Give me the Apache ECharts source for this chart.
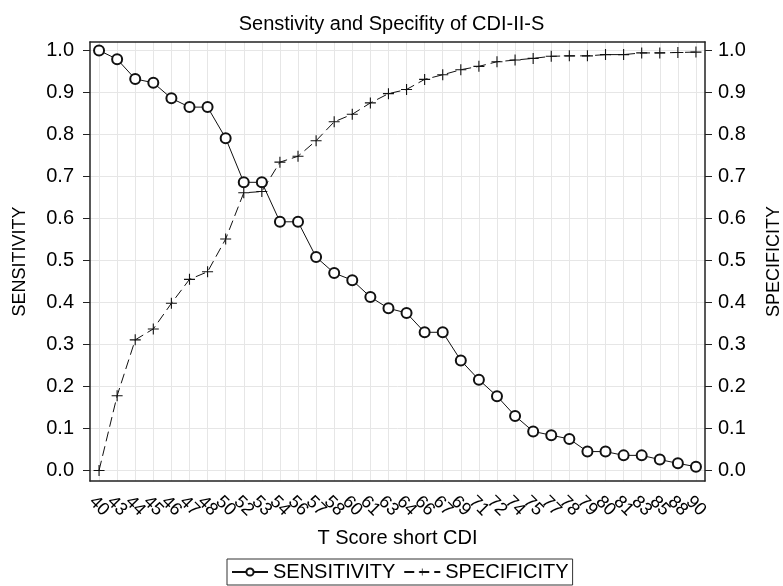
<!DOCTYPE html>
<html>
<head>
<meta charset="utf-8">
<script src="https://cdn.jsdelivr.net/npm/echarts@6/dist/echarts.min.js"></script>
<style>
    html, body { margin: 0; padding: 0; background: #fff; }
    #main { width: 783px; height: 586px; }
</style>
</head>
<body>
<div id="main"></div>
<script>
// T score categories along the bottom
var scores = ['40', '43', '44', '45', '46', '47', '48', '50', '52', '53', '54', '56', '57', '58', '60', '61', '63',
    '64', '66', '67', '69', '71', '72', '74', '75', '77', '78', '79', '80', '81', '83', '85', '88', '90'];

var sensitivity = [1.000, 0.979, 0.932, 0.923, 0.886, 0.865, 0.865, 0.791, 0.686, 0.686, 0.592, 0.592, 0.508,
    0.470, 0.453, 0.413, 0.386, 0.375, 0.329, 0.329, 0.262, 0.216, 0.177, 0.130, 0.093, 0.084, 0.075, 0.045,
    0.045, 0.036, 0.036, 0.026, 0.017, 0.009];

var specificity = [0.000, 0.178, 0.311, 0.337, 0.398, 0.455, 0.473, 0.551, 0.661, 0.664, 0.734, 0.748, 0.785,
    0.830, 0.848, 0.875, 0.897, 0.907, 0.931, 0.942, 0.954, 0.962, 0.973, 0.977, 0.981, 0.986, 0.987, 0.987,
    0.990, 0.990, 0.994, 0.994, 0.995, 0.996];

var yTicks = [0, 0.1, 0.2, 0.3, 0.4, 0.5, 0.6, 0.7, 0.8, 0.9, 1.0];

var font = 'Liberation Sans';
var plusSymbol = 'path://M4.5,0h1v10h-1zM0,4.5h10v1h-10z';

// the points sit on a value axis by index; the category axis only writes the labels
var xIdx = scores.map(function (s, i) { return i; });
function pairs(vals) {
    return vals.map(function (v, i) { return [i, v]; });
}

var chart = echarts.init(document.getElementById('main'));

function yAxisOf(name, pos, gap, showGrid) {
    return {
        type: 'value',
        position: pos,
        min: -0.025,
        max: 1.02,
        name: name,
        nameLocation: 'middle',
        nameRotate: 90,
        nameGap: gap,
        nameTextStyle: {fontFamily: font, fontSize: 18, color: '#000'},
        axisLine: {show: true, onZero: false, lineStyle: {color: '#222', width: 1.5}},
        axisTick: {show: true, length: 7, customValues: yTicks, lineStyle: {color: '#222'}},
        axisLabel: {
            customValues: yTicks,
            showMinLabel: true,
            showMaxLabel: true,
            margin: pos === 'left' ? 16 : 13,
            fontFamily: font, fontSize: 20, color: '#000',
            formatter: function (v) { return v.toFixed(1); }
        },
        splitLine: {show: showGrid, lineStyle: {color: '#e6e6e6', width: 1}}
    };
}

var option = {
    animation: false,
    backgroundColor: '#fff',
    title: {
        text: 'Senstivity and Specifity of CDI-II-S',
        left: 'center',
        top: 9,
        textStyle: {fontFamily: font, fontSize: 20, fontWeight: 'normal', color: '#000'}
    },
    legend: {
        bottom: 1,
        left: 227,
        itemWidth: 36,
        itemHeight: 9,
        itemGap: 8,
        padding: [3, 4],
        borderColor: '#333',
        borderWidth: 1,
        textStyle: {fontFamily: font, fontSize: 20, color: '#000'},
        data: ['SENSITIVITY', 'SPECIFICITY']
    },
    grid: {left: 90, right: 78, top: 42, bottom: 105, outerBoundsMode: 'none', containLabel: false},
    xAxis: [{
        type: 'category',
        data: scores,
        boundaryGap: true,
        position: 'bottom',
        name: 'T Score short CDI',
        nameLocation: 'middle',
        nameGap: 47,
        nameTextStyle: {fontFamily: font, fontSize: 20, color: '#000'},
        axisLine: {onZero: false, lineStyle: {color: '#222', width: 1.5}},
        axisTick: {alignWithLabel: true, interval: 0, length: 7, lineStyle: {color: '#222'}},
        axisLabel: {
            interval: 0,
            rotate: -45,
            align: 'center',
            verticalAlign: 'middle',
            margin: 25,
            fontFamily: font, fontSize: 18, color: '#000'
        },
        splitLine: {show: false}
    }, {
        type: 'value',
        min: -0.5,
        max: 33.5,
        position: 'top',
        axisLine: {show: true, onZero: false, lineStyle: {color: '#222', width: 1.5}},
        axisTick: {show: false, customValues: xIdx},
        axisLabel: {show: false, customValues: xIdx},
        splitLine: {show: true, lineStyle: {color: '#e6e6e6', width: 1}}
    }],
    yAxis: [
        yAxisOf('SENSITIVITY', 'left', 61, true),
        yAxisOf('SPECIFICITY', 'right', 60, false)
    ],
    series: [{
        name: 'SENSITIVITY',
        type: 'line',
        xAxisIndex: 1,
        yAxisIndex: 0,
        data: pairs(sensitivity),
        symbol: 'emptyCircle',
        symbolSize: 10,
        itemStyle: {color: '#111', borderColor: '#111', borderWidth: 1},
        lineStyle: {color: '#111', width: 1}
    }, {
        name: 'SPECIFICITY',
        type: 'line',
        xAxisIndex: 1,
        yAxisIndex: 1,
        data: pairs(specificity),
        symbol: plusSymbol,
        symbolSize: 11,
        itemStyle: {color: '#111'},
        lineStyle: {color: '#111', width: 1, type: [10, 5]}
    }]
};

chart.setOption(option);
</script>
</body>
</html>
